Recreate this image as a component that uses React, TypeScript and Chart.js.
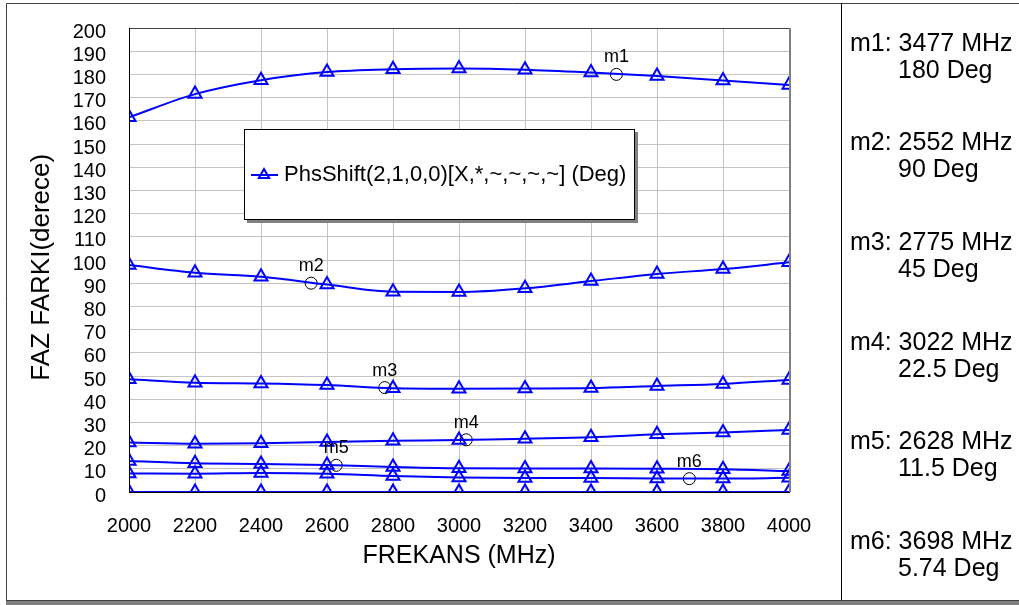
import React, { useEffect, useRef } from "react";
import { Chart, registerables } from "chart.js";

Chart.register(...registerables);

// ---- data ----
const freqs = [2000, 2200, 2400, 2600, 2800, 3000, 3200, 3400, 3600, 3800, 4000];
const curve180 = [161.5, 171.5, 177.5, 181, 182.2, 182.5, 182, 180.8, 179.3, 177.4, 175.4];
const curve90 = [97.8, 94.5, 92.8, 89.4, 86.3, 86.2, 87.8, 90.9, 94, 96.1, 99];
const curve45 = [48.6, 47.1, 46.8, 46.1, 44.7, 44.5, 44.6, 44.8, 45.7, 46.6, 48.3];
const curve22 = [21.3, 20.8, 21, 21.6, 22.1, 22.4, 23, 23.6, 24.9, 25.7, 26.7];
const curve11 = [13.4, 12.4, 12.1, 11.6, 10.8, 10.2, 10.1, 10.1, 10, 9.8, 9];
const curve5 = [8, 7.9, 8.2, 7.9, 6.9, 6.2, 6, 6, 5.8, 5.8, 6.1];
const curve0 = [0, 0, 0, 0, 0, 0, 0, 0, 0, 0, 0];
const curves = [curve180, curve90, curve45, curve22, curve11, curve5, curve0];

const markerNames = ["m1", "m2", "m3", "m4", "m5", "m6"];
const markerFreqs = [3477, 2552, 2775, 3022, 2628, 3698];
const markerValues = [180, 90, 45, 22.5, 11.5, 5.74];
const markerValueText = ["180", "90", "45", "22.5", "11.5", "5.74"];

const legendText = "PhsShift(2,1,0,0)[X,*,~,~,~,~] (Deg)";
const xTitle = "FREKANS (MHz)";
const yTitle = "FAZ FARKI(derece)";

const FONT = "'Liberation Sans', Arial, sans-serif";
const BLUE = "#0000ff";

const W = 1019;
const H = 605;

const decorPlugin = {
  id: "decor",
  beforeDraw(chart: any) {
    const ctx = chart.ctx;
    ctx.save();
    ctx.fillStyle = "#ffffff";
    ctx.fillRect(0, 0, W, H);
    ctx.restore();
  },
  afterDatasetsDraw(chart: any) {
    const ctx = chart.ctx;
    const { left, right, top, bottom } = chart.chartArea;
    const xs = chart.scales.x;
    const ys = chart.scales.y;
    ctx.save();

    // plot frame
    ctx.lineWidth = 1;
    ctx.strokeStyle = "#404040";
    ctx.beginPath();
    ctx.moveTo(left, top + 0.5);
    ctx.lineTo(right, top + 0.5);
    ctx.stroke();
    ctx.strokeStyle = "#000000";
    ctx.beginPath();
    ctx.moveTo(left + 0.5, top);
    ctx.lineTo(left + 0.5, bottom + 1);
    ctx.moveTo(left, bottom + 0.5);
    ctx.lineTo(right + 1, bottom + 0.5);
    ctx.stroke();
    ctx.strokeStyle = "#808080";
    ctx.lineWidth = 2;
    ctx.beginPath();
    ctx.moveTo(right + 1, top);
    ctx.lineTo(right + 1, bottom);
    ctx.stroke();

    // marker labels
    ctx.fillStyle = "#000000";
    ctx.font = `18px ${FONT}`;
    ctx.textAlign = "center";
    ctx.textBaseline = "middle";
    markerNames.forEach((n, i) => {
      const px = xs.getPixelForValue(markerFreqs[i]);
      const py = ys.getPixelForValue(markerValues[i]);
      ctx.fillText(n, px, py - 17);
    });

    // legend box
    const lx = 244, ly = 129, lw = 391, lh = 91;
    ctx.fillStyle = "#808080";
    ctx.fillRect(lx + 3, ly + 3, lw, lh);
    ctx.fillStyle = "#ffffff";
    ctx.fillRect(lx, ly, lw, lh);
    ctx.strokeStyle = "#000000";
    ctx.lineWidth = 1;
    ctx.strokeRect(lx + 0.5, ly + 0.5, lw - 1, lh - 1);
    const cy = ly + 46;
    ctx.strokeStyle = BLUE;
    ctx.lineWidth = 2;
    ctx.beginPath();
    ctx.moveTo(251, cy);
    ctx.lineTo(278, cy);
    ctx.stroke();
    const tr = 6;
    ctx.beginPath();
    ctx.moveTo(264, cy - tr);
    ctx.lineTo(264 + tr * 0.866, cy + tr * 0.5);
    ctx.lineTo(264 - tr * 0.866, cy + tr * 0.5);
    ctx.closePath();
    ctx.stroke();
    ctx.fillStyle = "#000000";
    ctx.font = `22px ${FONT}`;
    ctx.textAlign = "left";
    ctx.textBaseline = "middle";
    ctx.fillText(legendText, 284, cy);

    // outer frame
    ctx.strokeStyle = "#404040";
    ctx.lineWidth = 1;
    ctx.beginPath();
    ctx.moveTo(6.5, 3.5);
    ctx.lineTo(W, 3.5);
    ctx.moveTo(6.5, 3.5);
    ctx.lineTo(6.5, 600);
    ctx.stroke();
    ctx.fillStyle = "#808080";
    ctx.fillRect(6, 601, W - 6, 4);
    ctx.fillStyle = "#404040";
    ctx.fillRect(6, 600, W - 6, 1);
    // divider
    ctx.fillStyle = "#000000";
    ctx.fillRect(841, 3, 1, 597);

    // marker readouts
    ctx.fillStyle = "#000000";
    ctx.font = `25px ${FONT}`;
    ctx.textAlign = "left";
    ctx.textBaseline = "middle";
    markerNames.forEach((n, i) => {
      const base = 44 + i * 99.6;
      ctx.fillText(`${n}: ${markerFreqs[i]} MHz`, 850, base);
      ctx.fillText(`${markerValueText[i]} Deg`, 898, base + 27);
    });

    ctx.restore();
  },
};

export default function App() {
  const ref = useRef<HTMLCanvasElement | null>(null);

  useEffect(() => {
    if (!ref.current) return;
    const lineSets = curves.map((c) => ({
      type: "line" as const,
      label: legendText,
      data: freqs.map((f, i) => ({ x: f, y: c[i] })),
      borderColor: BLUE,
      borderWidth: 2,
      backgroundColor: "rgba(0,0,0,0)",
      pointStyle: "triangle",
      pointRadius: 7.5,
      pointBorderWidth: 2,
      pointBorderColor: BLUE,
      pointBackgroundColor: "rgba(0,0,0,0)",
      cubicInterpolationMode: "monotone" as const,
      fill: false,
      clip: 0,
    }));
    const markerSet = {
      type: "scatter" as const,
      label: "markers",
      data: markerFreqs.map((f, i) => ({ x: f, y: markerValues[i] })),
      pointStyle: "circle",
      pointRadius: 6,
      pointBorderWidth: 1,
      pointBorderColor: "#000000",
      pointBackgroundColor: "rgba(0,0,0,0)",
      showLine: false,
    };
    const chart = new Chart(ref.current, {
      type: "line",
      data: { datasets: [...lineSets, markerSet] as any },
      plugins: [decorPlugin],
      options: {
        animation: false,
        responsive: false,
        devicePixelRatio: 1,
        layout: { padding: { left: 0, top: 28, right: 230, bottom: 0 } },
        plugins: { legend: { display: false }, tooltip: { enabled: false } },
        scales: {
          x: {
            type: "linear",
            min: 2000,
            max: 4000,
            afterFit: (s: any) => {
              s.height = 113;
            },
            ticks: {
              stepSize: 200,
              color: "#000000",
              font: { family: FONT, size: 20 },
              padding: 22,
              maxRotation: 0,
              autoSkip: false,
              callback: (v: any) => String(v),
            },
            grid: { color: "#c4c4c4", lineWidth: 1, drawTicks: false },
            border: { display: false },
            title: {
              display: true,
              text: xTitle,
              color: "#000000",
              font: { family: FONT, size: 25 },
              padding: { top: 0, bottom: 34 },
            },
          },
          y: {
            type: "linear",
            min: 0,
            max: 200,
            afterFit: (s: any) => {
              s.width = 129;
            },
            ticks: {
              stepSize: 10,
              color: "#000000",
              font: { family: FONT, size: 20 },
              padding: 4,
              labelOffset: 4,
              autoSkip: false,
              callback: (v: any) => String(v),
            },
            grid: {
              color: "#c4c4c4",
              lineWidth: 1,
              drawTicks: true,
              tickLength: 19,
              tickColor: "rgba(0,0,0,0)",
            },
            border: { display: false },
            title: {
              display: true,
              text: yTitle + "  ",
              color: "#000000",
              font: { family: FONT, size: 26 },
              padding: { top: 26, bottom: 0 },
            },
          },
        },
      } as any,
    });
    return () => chart.destroy();
  }, []);

  return (
    <canvas
      ref={ref}
      width={W}
      height={H}
      style={{ position: "fixed", left: 0, top: 0, width: W, height: H }}
    />
  );
}
